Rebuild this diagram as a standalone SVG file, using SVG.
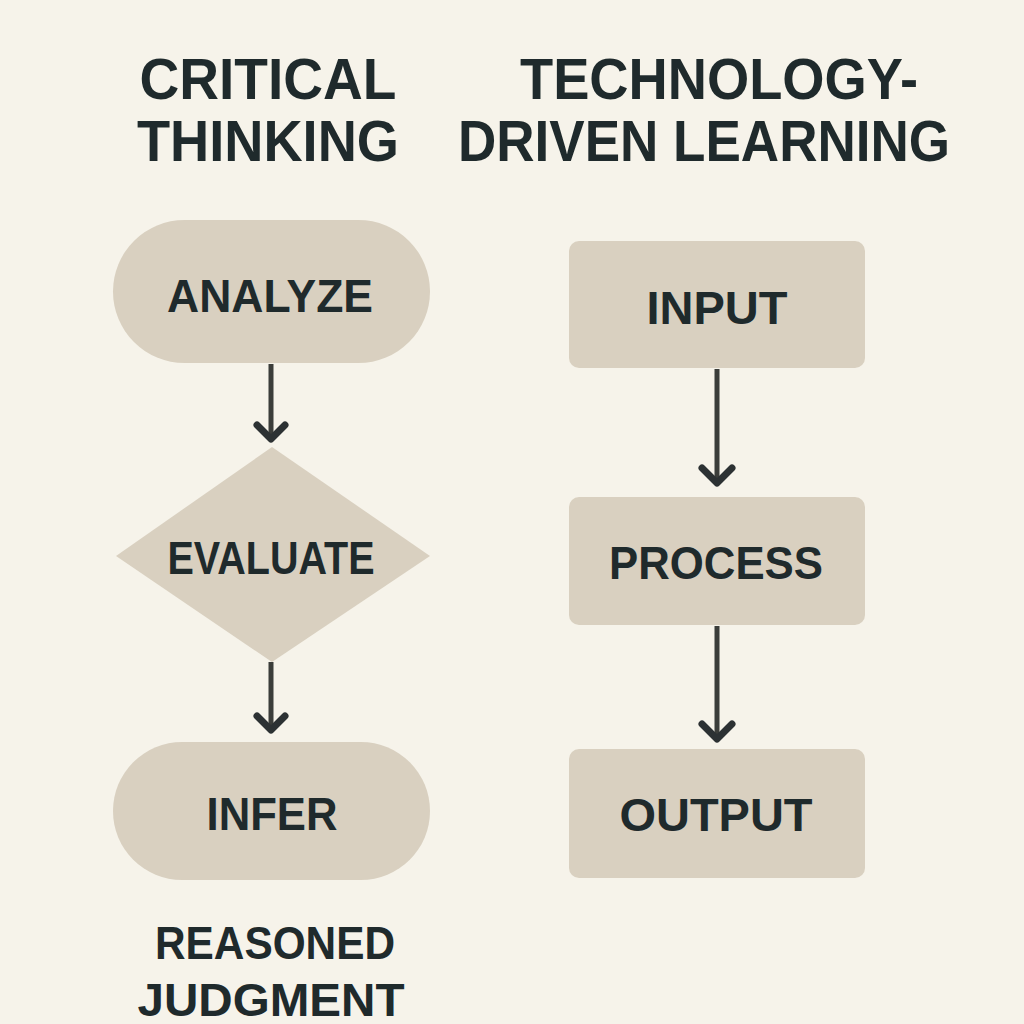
<svg xmlns="http://www.w3.org/2000/svg" width="1024" height="1024" viewBox="0 0 1024 1024">
<defs>
<style>
.bg{fill:#f6f3ea}
.node{fill:#d9d0c0}
.t{font-family:"Liberation Sans","DejaVu Sans",sans-serif;font-weight:bold;fill:#1f2a2c;text-anchor:middle}
.title{font-size:57px}
.lbl{font-size:47px}
.line{stroke:#3b3d3a;stroke-width:5;fill:none}
.head{stroke:#2c3133;stroke-width:7;fill:none;stroke-linecap:round;stroke-linejoin:round}
</style>
</defs>
<rect class="bg" x="0" y="0" width="1024" height="1024"/>
<g id="titles">
<text class="t title" x="268" y="99" textLength="257" lengthAdjust="spacingAndGlyphs">CRITICAL</text>
<text class="t title" x="268" y="161" textLength="262" lengthAdjust="spacingAndGlyphs">THINKING</text>
<text class="t title" x="719" y="99" textLength="398" lengthAdjust="spacingAndGlyphs">TECHNOLOGY-</text>
<text class="t title" x="704" y="161" textLength="492" lengthAdjust="spacingAndGlyphs">DRIVEN LEARNING</text>
</g>
<g id="analyze">
<rect class="node" x="113" y="220" width="317" height="143" rx="71.5"/>
<text class="t lbl" x="270" y="312" textLength="206" lengthAdjust="spacingAndGlyphs">ANALYZE</text>
</g>
<g id="evaluate">
<polygon class="node" points="116,556 272,447 430,556 272,662"/>
<text class="t lbl" x="271" y="574" font-size="45" textLength="207" lengthAdjust="spacingAndGlyphs">EVALUATE</text>
</g>
<g id="infer">
<rect class="node" x="113" y="742" width="317" height="138" rx="69"/>
<text class="t lbl" x="272" y="830" textLength="131" lengthAdjust="spacingAndGlyphs">INFER</text>
</g>
<g id="reasoned">
<text class="t lbl" x="275" y="959" font-size="45" textLength="240" lengthAdjust="spacingAndGlyphs">REASONED</text>
<text class="t lbl" x="271" y="1016" font-size="45" textLength="267" lengthAdjust="spacingAndGlyphs">JUDGMENT</text>
</g>
<g id="input">
<rect class="node" x="569" y="241" width="296" height="127" rx="10"/>
<text class="t lbl" x="717" y="324" textLength="141" lengthAdjust="spacingAndGlyphs">INPUT</text>
</g>
<g id="process">
<rect class="node" x="569" y="497" width="296" height="128" rx="10"/>
<text class="t lbl" x="716" y="579" textLength="214" lengthAdjust="spacingAndGlyphs">PROCESS</text>
</g>
<g id="output">
<rect class="node" x="569" y="749" width="296" height="129" rx="10"/>
<text class="t lbl" x="716" y="831" textLength="193" lengthAdjust="spacingAndGlyphs">OUTPUT</text>
</g>
<g id="connectors">
<line class="line" x1="271" y1="364" x2="271" y2="436"/>
<polyline class="head" points="257,425 271,439 285,425"/>
<line class="line" x1="271" y1="662" x2="271" y2="727"/>
<polyline class="head" points="257,716 271,730 285,716"/>
<line class="line" x1="717" y1="369" x2="717" y2="481"/>
<polyline class="head" points="702,468 717,483 732,468"/>
<line class="line" x1="717" y1="626" x2="717" y2="737"/>
<polyline class="head" points="702,724 717,739 732,724"/>
</g>
</svg>
